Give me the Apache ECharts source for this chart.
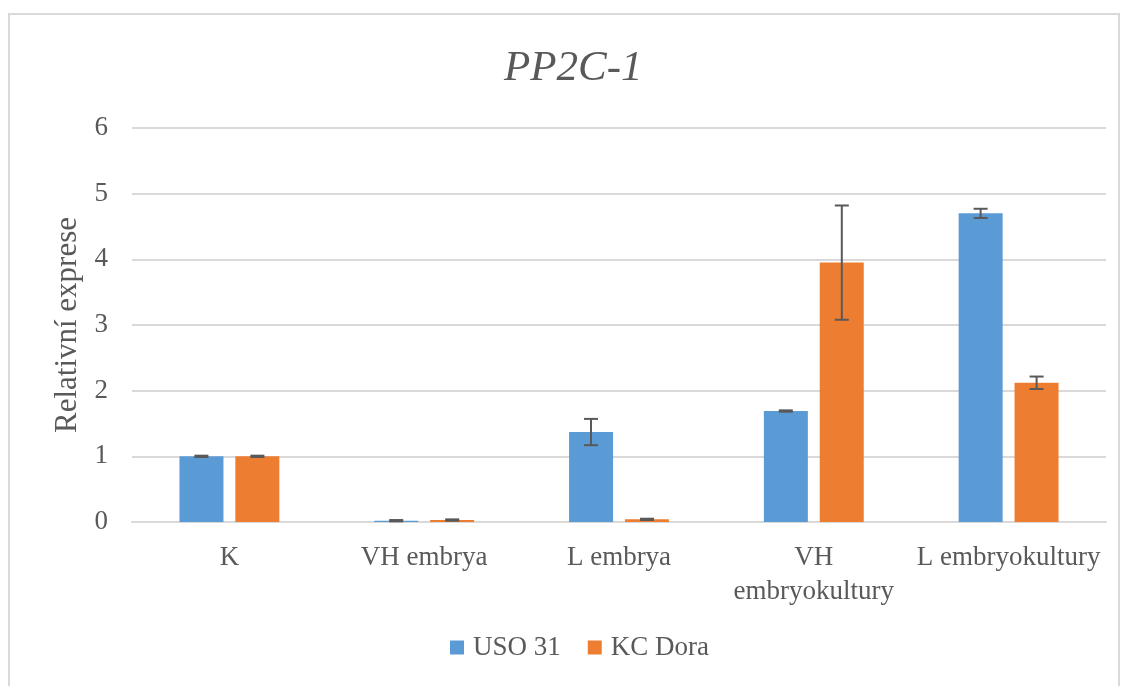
<!DOCTYPE html>
<html><head><meta charset="utf-8">
<script src="https://cdn.jsdelivr.net/npm/echarts@6/dist/echarts.min.js"></script>
<style>html,body{margin:0;padding:0;background:#fff}#c{width:1128px;height:686px}</style>
</head><body><div id="c"></div>
<script>
const categories = ['K', 'VH embrya', 'L embrya', 'VH\nembryokultury', 'L embryokultury'];
const seriesNames = ['USO 31', 'KC Dora'];
const uso = [1.0, 0.02, 1.37, 1.69, 4.70];
const usoErr = [0.01, 0.01, 0.2, 0.01, 0.07];
const dora = [1.0, 0.03, 0.04, 3.95, 2.12];
const doraErr = [0.01, 0.01, 0.01, 0.87, 0.095];
const yTicks = [0, 1, 2, 3, 4, 5, 6];

const font = 'Liberation Serif';
const txt = '#595959';
const chart = echarts.init(document.getElementById('c'));

function errSeries(vals, errs, idx) {
  return {
    type: 'custom',
    name: seriesNames[idx] + ' err',
    z: 10,
    silent: true,
    data: vals.map((v, i) => [i, v - errs[i], v + errs[i]]),
    renderItem: function (params, api) {
      const ci = api.value(0);
      const lo = api.coord([ci, api.value(1)]);
      const hi = api.coord([ci, api.value(2)]);
      const barW = 44, gap = 12;
      const off = (idx === 0 ? -1 : 1) * (barW + gap) / 2;
      const x = lo[0] + off;
      const hw = 7;
      const st = { stroke: '#595959', lineWidth: 2 };
      return { type: 'group', children: [
        { type: 'line', shape: { x1: x, y1: lo[1], x2: x, y2: hi[1] }, style: st },
        { type: 'line', shape: { x1: x - hw, y1: lo[1], x2: x + hw, y2: lo[1] }, style: st },
        { type: 'line', shape: { x1: x - hw, y1: hi[1], x2: x + hw, y2: hi[1] }, style: st }
      ]};
    }
  };
}

chart.setOption({
  animation: false,
  graphic: [{ type: 'rect', shape: { x: 9, y: 14, width: 1110, height: 690 }, style: { fill: 'none', stroke: '#d9d9d9', lineWidth: 2 } }],
  title: { text: 'PP2C-1', left: 499, top: 42, textStyle: { fontFamily: font, fontStyle: 'italic', fontWeight: 'normal', fontSize: 43, color: txt } },
  legend: { bottom: 20, left: 445, itemWidth: 14, itemHeight: 14, itemGap: 27, icon: 'rect', data: seriesNames, textStyle: { fontFamily: font, fontSize: 27, color: txt, padding: [0, 0, 0, 4] } },
  grid: { left: 132, right: 22, top: 128, bottom: 164 },
  xAxis: {
    type: 'category', data: categories,
    axisLine: { lineStyle: { color: '#d9d9d9', width: 2 } },
    axisTick: { show: false },
    axisLabel: { fontFamily: font, fontSize: 27, color: txt, margin: 19, lineHeight: 34, interval: 0 }
  },
  yAxis: {
    type: 'value', min: 0, max: 6, interval: 1,
    name: 'Relativní exprese', nameLocation: 'middle', nameGap: 46,
    nameTextStyle: { fontFamily: font, fontSize: 31, color: txt },
    axisLine: { show: false }, axisTick: { show: false },
    axisLabel: { fontFamily: font, fontSize: 27, color: txt, margin: 24, formatter: v => yTicks.includes(v) ? String(v) : '' },
    splitLine: { lineStyle: { color: '#d9d9d9', width: 2 } }
  },
  series: [
    { type: 'bar', name: seriesNames[0], data: uso, barWidth: 44, barGap: '27%', itemStyle: { color: '#5b9bd5' } },
    { type: 'bar', name: seriesNames[1], data: dora, barWidth: 44, itemStyle: { color: '#ed7d31' } },
    errSeries(uso, usoErr, 0),
    errSeries(dora, doraErr, 1)
  ]
});
</script></body></html>
